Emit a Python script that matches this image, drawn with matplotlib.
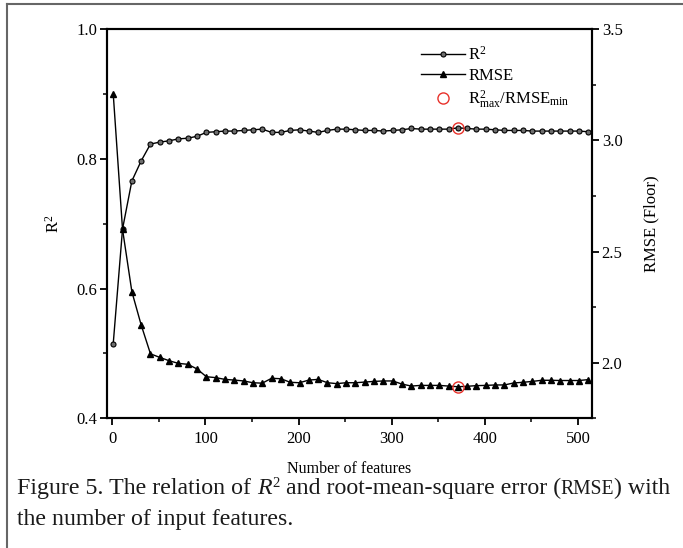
import matplotlib
matplotlib.use("Agg")
import matplotlib.pyplot as plt
from matplotlib.ticker import MultipleLocator
from matplotlib.lines import Line2D

plt.rcParams['font.family'] = ['Liberation Serif', 'DejaVu Serif']
plt.rcParams['mathtext.fontset'] = 'custom'
plt.rcParams['mathtext.rm'] = 'Liberation Serif'
plt.rcParams['mathtext.it'] = 'Liberation Serif:italic'

features = [1, 11, 21, 31, 41, 51, 61, 71, 81, 91,
            101, 111, 121, 131, 141, 151, 161, 171, 181, 191,
            201, 211, 221, 231, 241, 251, 261, 271, 281, 291,
            301, 311, 321, 331, 341, 351, 361, 371, 381, 391,
            401, 411, 421, 431, 441, 451, 461, 471, 481, 491,
            501, 511]
r2 = [0.515, 0.692, 0.766, 0.797, 0.823, 0.826, 0.828, 0.831, 0.832, 0.835,
      0.841, 0.842, 0.843, 0.843, 0.844, 0.845, 0.846, 0.841, 0.841, 0.844,
      0.845, 0.843, 0.841, 0.844, 0.846, 0.846, 0.845, 0.844, 0.844, 0.843,
      0.844, 0.845, 0.847, 0.846, 0.846, 0.846, 0.846, 0.848, 0.847, 0.846,
      0.846, 0.845, 0.844, 0.844, 0.844, 0.843, 0.843, 0.843, 0.843, 0.843,
      0.843, 0.842]
rmse = [3.21, 2.60, 2.32, 2.17, 2.04, 2.024, 2.009, 1.997, 1.993, 1.972,
        1.937, 1.933, 1.925, 1.922, 1.918, 1.910, 1.908, 1.930, 1.928, 1.912,
        1.910, 1.922, 1.925, 1.910, 1.906, 1.910, 1.910, 1.913, 1.916, 1.918,
        1.918, 1.904, 1.895, 1.898, 1.898, 1.898, 1.895, 1.892, 1.894, 1.897,
        1.898, 1.900, 1.900, 1.909, 1.912, 1.916, 1.921, 1.921, 1.920, 1.920,
        1.920, 1.924]
best_feature = 371

W, H = 683, 548
fig = plt.figure(figsize=(W / 100, H / 100), dpi=100)
ax = fig.add_axes([106.7 / W, 1 - 418.3 / H, (592 - 106.7) / W, (418.3 - 29.3) / H])
ax2 = ax.twinx()

l1, = ax.plot(features, r2, '-', color='black', lw=1.0, marker='o', ms=3.6,
              mfc='#6e6e6e', mec='black', mew=0.8, label='R$^{2}$')
l2, = ax2.plot(features, rmse, '-', color='black', lw=1.0, marker='^', ms=5,
               mfc='black', mec='black', label='RMSE')
bi = features.index(best_feature)
ax.plot([best_feature], [r2[bi]], 'o', ms=8, mfc='none', mec='#e8312a', mew=1.0, zorder=5)
ax2.plot([best_feature], [rmse[bi]], 'o', ms=8, mfc='none', mec='#e8312a', mew=1.0, zorder=5)

ax.set_xlim(-6, 515)
ax.set_ylim(0.4, 1.0)
ax2.set_ylim(1.75, 3.5)
ax.xaxis.set_major_locator(MultipleLocator(100))
ax.xaxis.set_minor_locator(MultipleLocator(50))
ax.yaxis.set_major_locator(MultipleLocator(0.2))
ax.yaxis.set_minor_locator(MultipleLocator(0.1))
ax2.yaxis.set_major_locator(MultipleLocator(0.5))
ax2.yaxis.set_minor_locator(MultipleLocator(0.25))
ax.yaxis.set_major_formatter(matplotlib.ticker.FormatStrFormatter('%.1f'))
ax2.yaxis.set_major_formatter(matplotlib.ticker.FormatStrFormatter('%.1f'))

for a in (ax, ax2):
    for s in a.spines.values():
        s.set_linewidth(1.5)
    a.tick_params(which='major', direction='out', length=5, width=1.3, labelsize=12, pad=2)
    a.tick_params(which='minor', direction='out', length=3, width=1.1)
ax.tick_params(axis='x', pad=4)

ax.set_xlabel('Number of features', fontsize=11.5, labelpad=10)
ax.set_ylabel('R$^{2}$', fontsize=12, labelpad=10)
ax2.set_ylabel('RMSE (Floor)', fontsize=12, labelpad=15)

h3 = Line2D([], [], ls='none', marker='o', ms=8, mfc='none', mec='#e8312a', mew=1.0,
            label='R$^{2}_{\\mathrm{max}}$/RMSE$_{\\mathrm{min}}$')
leg = ax.legend(handles=[l1, l2, h3], loc='upper right', bbox_to_anchor=(0.985, 0.995),
                frameon=False, fontsize=12, handlelength=2.6, handletextpad=0.2,
                labelspacing=0.25)

# border of the figure panel
fig.add_artist(Line2D([7 / W, 1.0], [1 - 4 / H, 1 - 4 / H], transform=fig.transFigure,
                      color='#666666', lw=1.5))
fig.add_artist(Line2D([7 / W, 7 / W], [1 - 4 / H, 0.0], transform=fig.transFigure,
                      color='#666666', lw=1.5))

# caption
fig.canvas.draw()
renderer = fig.canvas.get_renderer()
fs = 17.2
y1 = 1 - 494 / H
pieces = [("Figure 5. The relation of ", dict(fontsize=fs), 0),
          ("R", dict(fontsize=fs, style='italic'), 0),
          ("2", dict(fontsize=fs * 0.62), 7),
          (" and root-mean-square error (", dict(fontsize=fs), 0),
          ("RMSE", dict(fontsize=fs * 0.82), 0),
          (") with", dict(fontsize=fs), 0)]
xpx = 17
for txt, kw, dy in pieces:
    t = fig.text(xpx / W, y1 + dy / H, txt, va='baseline', ha='left', color='#1a1a1a', **kw)
    bb = t.get_window_extent(renderer)
    xpx = bb.x1 + (0.5 if txt == "R" else 0)
fig.text(17 / W, 1 - 525 / H, "the number of input features.", fontsize=fs,
         va='baseline', ha='left', color='#1a1a1a')

fig.savefig('out.png', dpi=100)
